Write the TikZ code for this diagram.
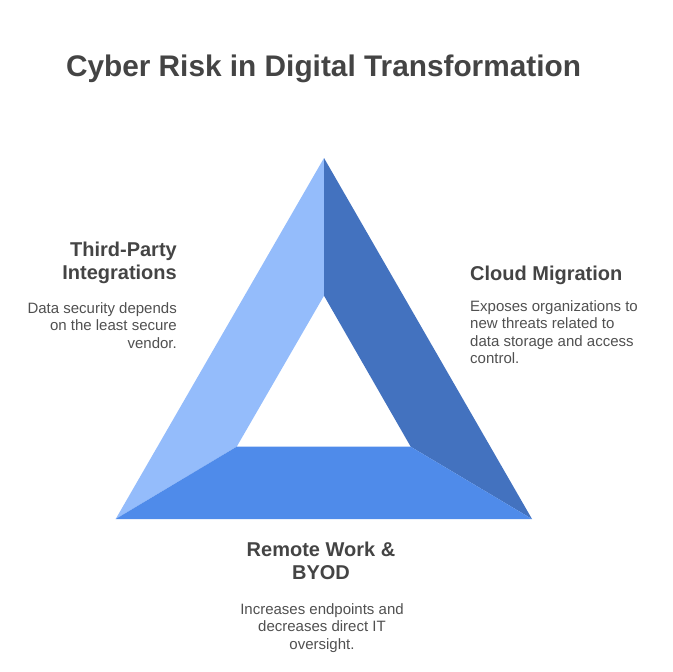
\documentclass[tikz,border=0pt]{standalone}
\usepackage{fontspec}
\setmainfont{Liberation Sans}
\usepackage{xcolor}
\usepackage{tikz}

\definecolor{faceleft}{RGB}{148,188,251}
\definecolor{faceright}{RGB}{67,114,191}
\definecolor{facebottom}{RGB}{79,139,234}
\definecolor{headgray}{RGB}{68,68,68}
\definecolor{bodygray}{RGB}{80,80,80}

\tikzset{
    heading/.style={inner sep=0, text=headgray, font=\fontsize{20}{23}\selectfont\bfseries},
    body/.style={inner sep=0, text=bodygray, font=\fontsize{15}{17.6}\selectfont}
}

\begin{document}
\begin{tikzpicture}[x=1pt, y=-1pt]
            \useasboundingbox (0, 0) rectangle (672, 672);

            % outer and inner corners
            \coordinate (A) at (324, 158);
            \coordinate (B) at (115.7, 519);
            \coordinate (C) at (532, 519);
            \coordinate (a) at (324, 295.7);
            \coordinate (b) at (236.7, 446.7);
            \coordinate (c) at (410.7, 446.7);

            \fill [faceleft] (A) -- (a) -- (b) -- (B) -- cycle;
            \fill [faceright] (A) -- (C) -- (c) -- (a) -- cycle;
            \fill [facebottom] (B) -- (b) -- (c) -- (C) -- cycle;

            \node[text=headgray, inner sep=0, anchor=base, font=\fontsize{29.8}{34}\selectfont\bfseries] (title) at (323.5, 76) {Cyber Risk in Digital Transformation};

            \node[heading, anchor=north east, align=right] (thirdhead) at (177, 242) {Third-Party\\Integrations};
            \node[body, anchor=north east, align=right] (thirdtext) at (177, 302.3) {Data security depends\\on the least secure\\vendor.};

            \node[heading, anchor=north west, align=left] (cloudhead) at (470, 265.4) {Cloud Migration};
            \node[body, anchor=north west, align=left] (cloudtext) at (470, 300) {Exposes organizations to\\new threats related to\\data storage and access\\control.};

            \node[heading, anchor=north, align=center] (remotehead) at (321, 541.4) {Remote Work \&\\BYOD};
            \node[body, anchor=north, align=center] (remotetext) at (322, 603.3) {Increases endpoints and\\decreases direct IT\\oversight.};
        \end{tikzpicture}
\end{document}
